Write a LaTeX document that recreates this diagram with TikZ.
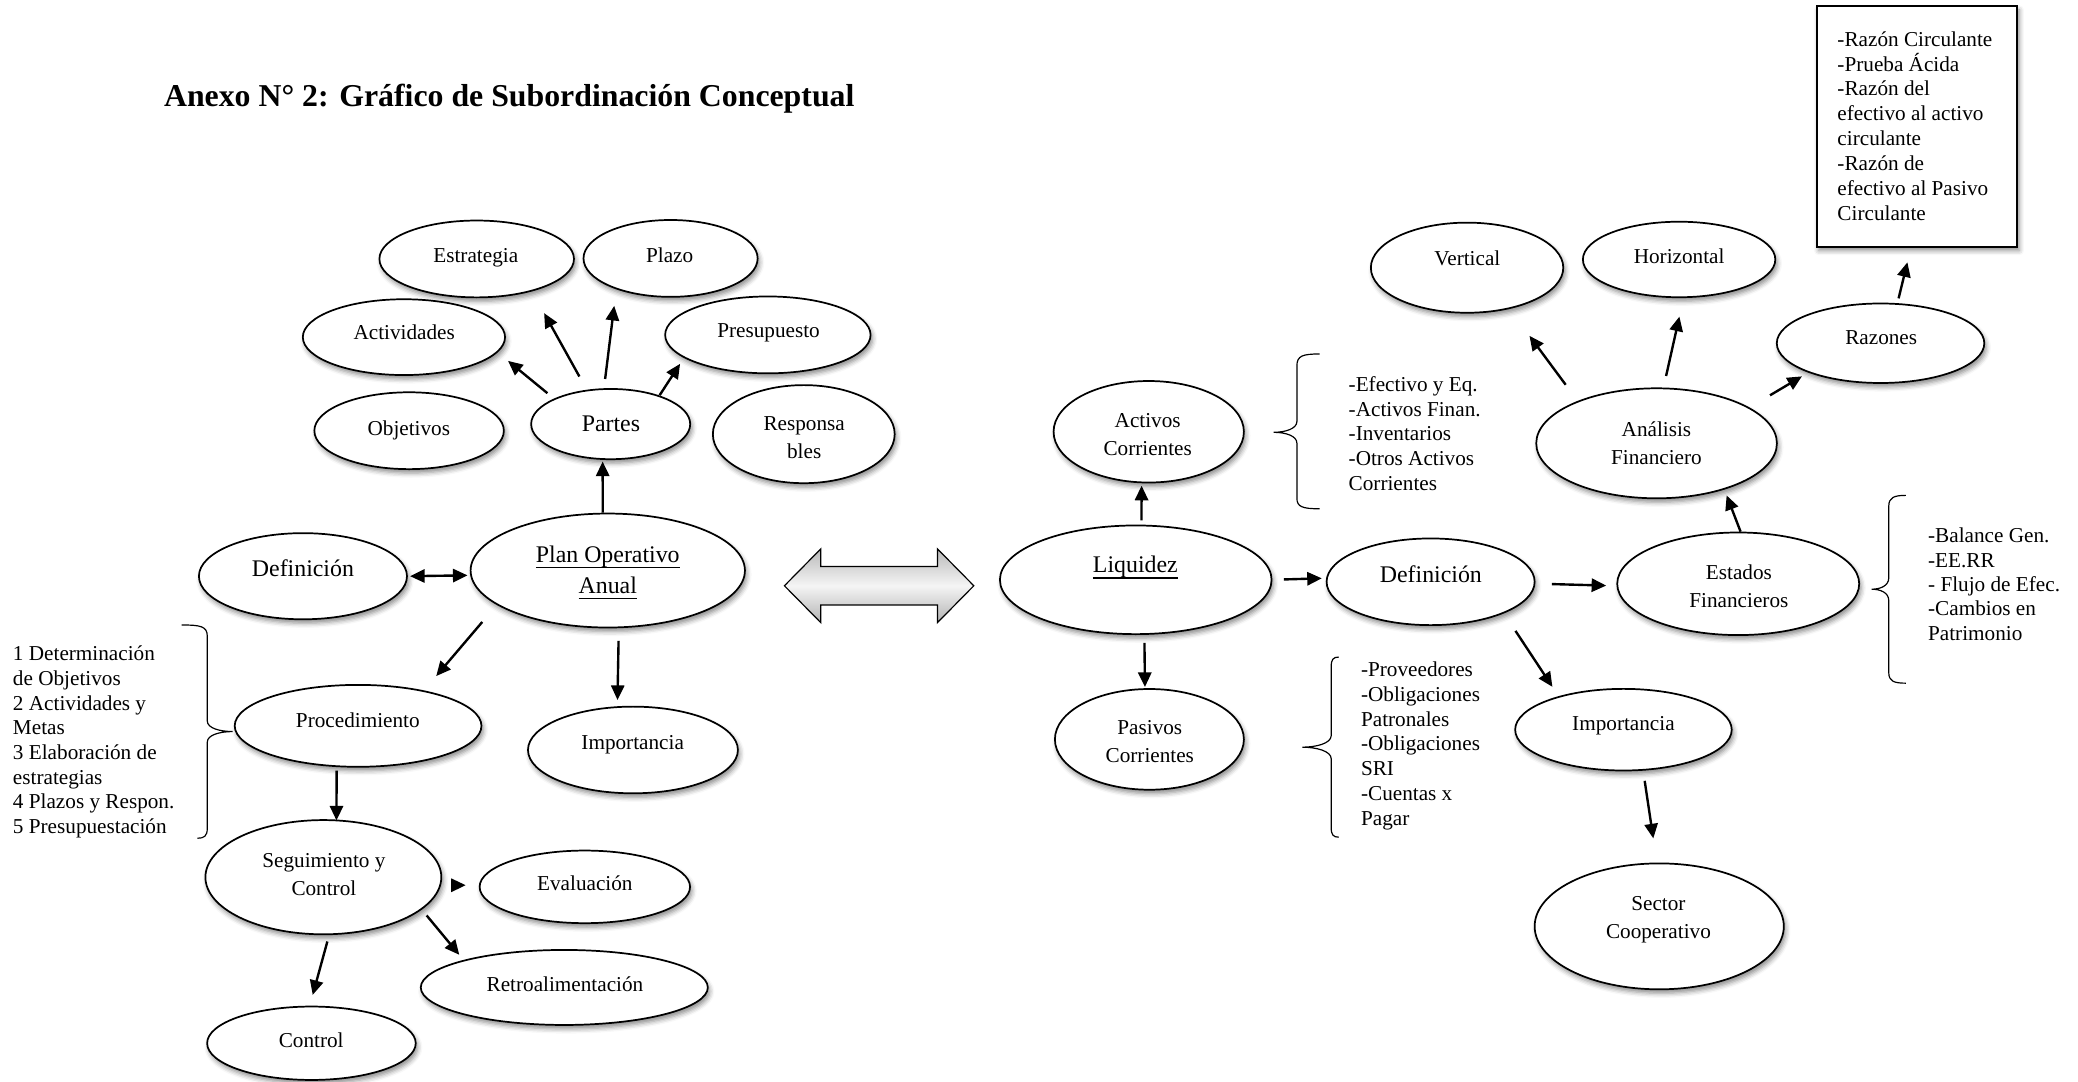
\documentclass[tikz,border=0pt]{standalone}
\usepackage{fontspec}
\setmainfont{Liberation Serif}
\usetikzlibrary{shapes.geometric,arrows.meta,shadows.blur}
\newcommand\myul[1]{\setbox0\hbox{#1}\rlap{\vrule width\wd0 height -3pt depth 4.3pt}\box0}
\begin{document}
\begin{tikzpicture}[x=1pt,y=-1pt,
  ell/.style={ellipse, draw, line width=1.3pt, fill=white, inner sep=0pt, outer sep=0pt,
    blur shadow={shadow xshift=1.5pt, shadow yshift=-3pt, shadow blur radius=3.5pt, shadow opacity=45}},
  boxst/.style={rectangle, draw, line width=1.5pt, fill=white, inner sep=0pt, outer sep=0pt,
    blur shadow={shadow xshift=1.5pt, shadow yshift=-3pt, shadow blur radius=3.5pt, shadow opacity=45}},
  arr/.style={line width=1.8pt, -{Triangle[length=11pt,width=10pt]}},
  darr/.style={line width=1.8pt, {Triangle[length=11pt,width=10pt]}-{Triangle[length=11pt,width=10pt]}},
  t16/.style={font=\fontsize{16}{21}\selectfont, inner sep=0pt, anchor=base, yshift=-4.5pt},
  t18/.style={font=\fontsize{18}{23.4}\selectfont, inner sep=0pt, anchor=base, yshift=-5pt},
  m16/.style={font=\fontsize{16}{21}\selectfont, inner sep=0pt, align=center, anchor=center},
  m18/.style={font=\fontsize{18}{23.4}\selectfont, inner sep=0pt, align=center, anchor=center},
  lst/.style={inner sep=0pt, align=left, anchor=west},
  brace/.style={line width=0.9pt}
]
\useasboundingbox (0,0) rectangle (1568,816);

% title
\node[font=\fontsize{24}{28}\selectfont\bfseries, anchor=base west, inner sep=0pt] (title) at (123.6,80) {Anexo N° 2: Gráfico de Subordinación Conceptual};

% ---------- left cluster ----------
\node[ell, minimum width=146.8pt, minimum height=58pt] (estr) at (359.7,195.4) {};
\node[ell, minimum width=131.4pt, minimum height=58pt] (plazo) at (506,195) {};
\node[ell, minimum width=152.6pt, minimum height=57.2pt] (activ) at (304.8,254.4) {};
\node[ell, minimum width=155pt, minimum height=58pt] (presu) at (579.4,252.7) {};
\node[ell, minimum width=143pt, minimum height=58pt] (objet) at (308.7,325) {};
\node[ell, minimum width=120pt, minimum height=53pt] (partes) at (460.8,320) {};
\node[ell, minimum width=137.2pt, minimum height=74pt] (resp) at (606.5,327.6) {};
\node[ell, minimum width=157pt, minimum height=65pt] (defL) at (228.6,434.8) {};
\node[ell, minimum width=207pt, minimum height=86pt] (plan) at (458.6,430.5) {};
\node[ell, minimum width=186.2pt, minimum height=61.8pt] (proc) at (270.2,547.7) {};
\node[ell, minimum width=158.4pt, minimum height=65.4pt] (impL) at (477.6,565.9) {};
\node[ell, minimum width=178pt, minimum height=86.2pt] (seg) at (244,661.9) {};
\node[ell, minimum width=158.8pt, minimum height=54.8pt] (eval) at (441.3,669.2) {};
\node[ell, minimum width=216.6pt, minimum height=56.6pt] (retro) at (425.8,745.1) {};
\node[ell, minimum width=157.4pt, minimum height=55.4pt] (ctrl) at (235,787.2) {};

\node[t16] (t-estr) at (359,193.7) {Estrategia};
\node[t16] (t-plazo) at (505.3,193.7) {Plazo};
\node[t16] (t-activ) at (305,251.5) {Actividades};
\node[t16] (t-presu) at (579.9,250.2) {Presupuesto};
\node[t16] (t-objet) at (308.5,323.9) {Objetivos};
\node[t18] (t-partes) at (461,320.7) {Partes};
\node[m16] (t-resp) at (606.8,330.4) {Responsa\\bles};
\node[t18] (t-defL) at (228.6,430.1) {Definición};
\node[m18] (t-plan) at (458.6,432.2) {\myul{Plan Operativo}\\\myul{Anual}};
\node[t16] (t-proc) at (270,544.5) {Procedimiento};
\node[t16] (t-impL) at (477.4,561.3) {Importancia};
\node[m16] (t-seg) at (244.4,659.9) {Seguimiento y\\Control};
\node[t16] (t-eval) at (441.3,667.7) {Evaluación};
\node[t16] (t-retro) at (426.3,743.7) {Retroalimentación};
\node[t16] (t-ctrl) at (234.8,785.9) {Control};

% left list and brace
\node[lst, font=\fontsize{16}{18.6}\selectfont] (leftlist) at (9.6,559.9) {1 Determinación\\de Objetivos\\2 Actividades y\\Metas\\3 Elaboración de\\estrategias\\4 Plazos y Respon.\\5 Presupuestación};
\draw[brace] (137.1,471.6) .. controls (151,471.6) and (156.4,472.5) .. (156.4,480)
  -- (156.4,544) .. controls (156.4,549.5) and (166,552) .. (175.6,552)
  .. controls (166,552) and (156.4,554.5) .. (156.4,560)
  -- (156.4,625) .. controls (156.4,631) and (154,632.5) .. (149,632.5);

% double arrow
\draw[line width=0.9pt, top color=gray!55, bottom color=gray!60, middle color=gray!8]
  (591.9,442) -- (619.3,414.2) -- (619.3,427.5) -- (707.4,427.5) -- (707.4,414.2)
  -- (734.8,442) -- (707.4,469.8) -- (707.4,456.5) -- (619.3,456.5) -- (619.3,469.8) -- cycle;

% ---------- right cluster ----------
\node[ell, minimum width=205pt, minimum height=82pt] (liq) at (857,437.5) {};
\node[ell, minimum width=143.6pt, minimum height=76.6pt] (actc) at (866.8,325.8) {};
\node[ell, minimum width=142.6pt, minimum height=76pt] (pasc) at (867.3,557.9) {};
\node[ell, minimum width=157pt, minimum height=65.4pt] (defR) at (1079.5,439) {};
\node[ell, minimum width=182.6pt, minimum height=77.4pt] (estf) at (1311.6,440.5) {};
\node[ell, minimum width=163.4pt, minimum height=61.6pt] (impR) at (1225,550.6) {};
\node[ell, minimum width=188pt, minimum height=95pt] (sect) at (1252,699) {};
\node[ell, minimum width=145.2pt, minimum height=68pt] (vert) at (1107,202) {};
\node[ell, minimum width=145.2pt, minimum height=57pt] (horiz) at (1267,195.8) {};
\node[ell, minimum width=156.6pt, minimum height=60pt] (raz) at (1419,259) {};
\node[ell, minimum width=181.6pt, minimum height=83pt] (anal) at (1250,334.5) {};
\node[boxst, minimum width=151.5pt, minimum height=181.6pt, anchor=north west] (razbox) at (1370.7,4.5) {};

\node[t18] (t-liq) at (856.7,427.3) {\myul{Liquidez}};
\node[m16] (t-actc) at (866,327.9) {Activos\\Corrientes};
\node[m16] (t-pasc) at (867.6,559.3) {Pasivos\\Corrientes};
\node[t18] (t-defR) at (1079.7,434.5) {Definición};
\node[m16] (t-estf) at (1312.1,442.5) {Estados\\Financieros};
\node[t16] (t-impR) at (1225,546.4) {Importancia};
\node[m16] (t-sect) at (1251.4,694.1) {Sector\\Cooperativo};
\node[t16] (t-vert) at (1107.2,195.7) {Vertical};
\node[t16] (t-horiz) at (1267,194.4) {Horizontal};
\node[t16] (t-raz) at (1419.5,255.8) {Razones};
\node[m16] (t-anal) at (1249.9,334.7) {Análisis\\Financiero};

\node[lst, font=\fontsize{16}{18.76}\selectfont] (razlist) at (1386.3,95) {-Razón Circulante\\-Prueba Ácida\\-Razón del\\efectivo al activo\\circulante\\-Razón de\\efectivo al Pasivo\\Circulante};
\node[lst, font=\fontsize{16}{18.55}\selectfont] (actlist) at (1017.5,327.2) {-Efectivo y Eq.\\-Activos Finan.\\-Inventarios\\-Otros Activos\\Corrientes};
\node[lst, font=\fontsize{16}{18.67}\selectfont] (paslist) at (1026.8,562.7) {-Proveedores\\-Obligaciones\\Patronales\\-Obligaciones\\SRI\\-Cuentas x\\Pagar};
\node[lst, font=\fontsize{16}{18.4}\selectfont] (estlist) at (1454.7,440.9) {-Balance Gen.\\-EE.RR\\- Flujo de Efec.\\-Cambios en\\Patrimonio};

% braces right
\draw[brace] (995.7,267.1) .. controls (983,267.1) and (978.6,268.5) .. (978.6,276)
  -- (978.6,318) .. controls (978.6,323.5) and (970,326.2) .. (961,326.2)
  .. controls (970,326.2) and (978.6,328.9) .. (978.6,334.4)
  -- (978.6,376) .. controls (978.6,382.5) and (983,383.9) .. (995.7,383.9);
\draw[brace] (1010.2,495.8) .. controls (1006,495.8) and (1004.5,497.5) .. (1004.5,503)
  -- (1004.5,555) .. controls (1004.5,561) and (993,563.8) .. (982.7,563.8)
  .. controls (993,563.8) and (1004.5,566.6) .. (1004.5,572.6)
  -- (1004.5,624.5) .. controls (1004.5,630) and (1006,631.7) .. (1010.2,631.7);
\draw[brace] (1438.1,373.8) .. controls (1429,373.8) and (1425.2,375.5) .. (1425.2,382)
  -- (1425.2,436) .. controls (1425.2,442) and (1419,444.6) .. (1412.2,444.6)
  .. controls (1419,444.6) and (1425.2,447.2) .. (1425.2,453.2)
  -- (1425.2,507.5) .. controls (1425.2,514) and (1429,515.5) .. (1438.1,515.5);

% ---------- connectors ----------
\draw[arr, shorten <=7.1pt, shorten >=10.7pt] (partes.156) -- (activ.-9.7);
\draw[arr, shorten <=12.1pt, shorten >=19.4pt] (partes.125.4) -- (estr.-30.6);
\draw[arr, shorten <=7.7pt, shorten >=13.2pt] (partes.101.8) -- (plazo.-151.5);
\draw[arr, shorten <=0.9pt, shorten >=5.9pt] (partes.30.8) -- (presu.-165.5);
\draw[arr, shorten <=0.7pt, shorten >=1.9pt] (plan.95.2) -- (partes.-103);
\draw[darr, shorten <=2.3pt, shorten >=2.7pt] (defL.0.7) -- (plan.-178.2);
\draw[arr, shorten <=17.5pt, shorten >=14.9pt] (plan.-163.4) -- (proc.28.3);
\draw[arr, shorten <=10.2pt, shorten >=5.4pt] (plan.-79.2) -- (impL.110);
\draw[arr, shorten <=3.4pt] (proc.-118.6) -- (seg.77.4);
\draw[arr, shorten <=8.75pt, shorten >=10.6pt] (seg.-4.3) -- (eval.179.5);
\draw[arr, shorten <=6.3pt, shorten >=5.7pt] (seg.-18.4) -- (retro.165);
\draw[arr, shorten <=5.7pt, shorten >=9.1pt] (seg.-84.8) -- (ctrl.93.1);

\draw[arr, shorten <=3.9pt, shorten >=2.5pt] (liq.84.7) -- (actc.-98.9);
\draw[arr, shorten <=9.2pt, shorten >=3.9pt] (liq.0.4) -- (defR.178.4);
\draw[arr, shorten <=6.7pt, shorten >=1.6pt] (liq.-81.1) -- (pasc.95.9);
\draw[arr, shorten <=13.1pt, shorten >=8.4pt] (defR.-1.4) -- (estf.-179.1);
\draw[arr, shorten <=16.4pt, shorten >=9.1pt] (defR.-23.9) -- (impR.153.2);
\draw[arr, shorten <=8.4pt, shorten >=19.1pt] (impR.-64) -- (sect.92.4);
\draw[arr, shorten <=0.7pt, shorten >=5.3pt] (estf.87.5) -- (anal.-34);
\draw[arr, shorten <=15.8pt, shorten >=25.9pt] (anal.152.4) -- (vert.-44.1);
\draw[arr, shorten <=9.6pt, shorten >=15pt] (anal.83.9) -- (horiz.-83.2);
\draw[arr, shorten <=18.7pt, shorten >=6.3pt] (anal.21) -- (raz.-158.7);
\draw[arr, shorten <=4.4pt, shorten >=12.2pt] (raz.67.4) -- ([xshift=-4.3pt]razbox.south);
\end{tikzpicture}
\end{document}
